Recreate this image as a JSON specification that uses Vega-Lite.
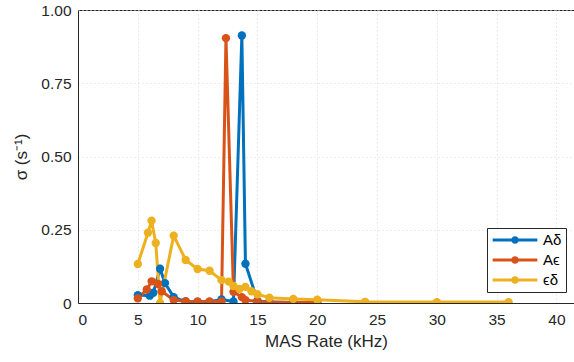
{
  "$schema": "https://vega.github.io/schema/vega-lite/v6.json",
  "autosize": "none",
  "width": 496,
  "height": 293,
  "padding": {"left": 78, "top": 10, "right": 0, "bottom": 59},
  "background": "white",
  "config": {
    "font": "Liberation Sans",
    "view": {"stroke": "#262626", "strokeWidth": 1},
    "axis": {
      "domainColor": "#262626",
      "tickColor": "#262626",
      "labelColor": "#262626",
      "titleColor": "#262626",
      "labelFontSize": 15.5,
      "titleFontSize": 17,
      "titleFontWeight": "normal",
      "gridColor": "#d9d9d9",
      "gridDash": [1, 3],
      "gridWidth": 1,
      "tickSize": 0
    }
  },
  "data": {
    "values": [
      {"s": "Aδ", "x": 5.0, "y": 0.027},
      {"s": "Aδ", "x": 6.0, "y": 0.025},
      {"s": "Aδ", "x": 6.3, "y": 0.035},
      {"s": "Aδ", "x": 6.86, "y": 0.117},
      {"s": "Aδ", "x": 7.27, "y": 0.068},
      {"s": "Aδ", "x": 8.0, "y": 0.02},
      {"s": "Aδ", "x": 9.0, "y": 0.005},
      {"s": "Aδ", "x": 10.0, "y": 0.004},
      {"s": "Aδ", "x": 11.0, "y": 0.004},
      {"s": "Aδ", "x": 12.0, "y": 0.012},
      {"s": "Aδ", "x": 13.0, "y": 0.005},
      {"s": "Aδ", "x": 13.7, "y": 0.913},
      {"s": "Aδ", "x": 14.0, "y": 0.134},
      {"s": "Aδ", "x": 15.0, "y": 0.008},
      {"s": "Aδ", "x": 16.0, "y": 0.003},
      {"s": "Aδ", "x": 18.0, "y": 0.002},
      {"s": "Aδ", "x": 20.0, "y": 0.002},
      {"s": "Aϵ", "x": 5.0, "y": 0.016},
      {"s": "Aϵ", "x": 5.75, "y": 0.046},
      {"s": "Aϵ", "x": 6.16, "y": 0.074},
      {"s": "Aϵ", "x": 6.7, "y": 0.065},
      {"s": "Aϵ", "x": 7.0, "y": 0.04},
      {"s": "Aϵ", "x": 8.0, "y": 0.01},
      {"s": "Aϵ", "x": 9.0, "y": 0.006},
      {"s": "Aϵ", "x": 10.0, "y": 0.005},
      {"s": "Aϵ", "x": 11.0, "y": 0.005},
      {"s": "Aϵ", "x": 12.0, "y": 0.005},
      {"s": "Aϵ", "x": 12.37, "y": 0.904},
      {"s": "Aϵ", "x": 13.0, "y": 0.038},
      {"s": "Aϵ", "x": 13.7, "y": 0.02},
      {"s": "Aϵ", "x": 14.0, "y": 0.01},
      {"s": "Aϵ", "x": 15.0, "y": 0.005},
      {"s": "Aϵ", "x": 16.0, "y": 0.003},
      {"s": "Aϵ", "x": 18.0, "y": 0.002},
      {"s": "Aϵ", "x": 20.0, "y": 0.002},
      {"s": "ϵδ", "x": 5.0, "y": 0.133},
      {"s": "ϵδ", "x": 5.85, "y": 0.24},
      {"s": "ϵδ", "x": 6.15, "y": 0.281},
      {"s": "ϵδ", "x": 6.5, "y": 0.205},
      {"s": "ϵδ", "x": 6.86, "y": 0.0},
      {"s": "ϵδ", "x": 8.0, "y": 0.23},
      {"s": "ϵδ", "x": 9.0, "y": 0.147},
      {"s": "ϵδ", "x": 10.0, "y": 0.116},
      {"s": "ϵδ", "x": 11.0, "y": 0.11},
      {"s": "ϵδ", "x": 12.0, "y": 0.078},
      {"s": "ϵδ", "x": 12.6, "y": 0.073},
      {"s": "ϵδ", "x": 13.0, "y": 0.058},
      {"s": "ϵδ", "x": 13.5, "y": 0.048},
      {"s": "ϵδ", "x": 14.0, "y": 0.055},
      {"s": "ϵδ", "x": 14.5, "y": 0.04},
      {"s": "ϵδ", "x": 15.0, "y": 0.03},
      {"s": "ϵδ", "x": 16.0, "y": 0.018},
      {"s": "ϵδ", "x": 18.0, "y": 0.014},
      {"s": "ϵδ", "x": 20.0, "y": 0.011},
      {"s": "ϵδ", "x": 24.0, "y": 0.004},
      {"s": "ϵδ", "x": 30.0, "y": 0.003},
      {"s": "ϵδ", "x": 36.0, "y": 0.003}
    ]
  },
  "mark": {"type": "line", "strokeWidth": 3, "clip": true, "point": {"filled": true, "size": 70, "opacity": 1}},
  "encoding": {
    "x": {
      "field": "x", "type": "quantitative",
      "scale": {"domain": [0, 41.47], "nice": false, "zero": false},
      "axis": {"values": [0, 5, 10, 15, 20, 25, 30, 35, 40], "title": "MAS Rate (kHz)", "labelPadding": 9, "titlePadding": 6, "grid": true}
    },
    "y": {
      "field": "y", "type": "quantitative",
      "scale": {"domain": [0, 1], "nice": false},
      "axis": {"values": [0, 0.25, 0.5, 0.75, 1], "labelExpr": "datum.value == 0 ? '0' : format(datum.value, '.2f')", "title": "σ (s⁻¹)", "labelPadding": 7, "titlePadding": 10, "grid": true}
    },
    "color": {
      "field": "s", "type": "nominal",
      "scale": {"domain": ["Aδ", "Aϵ", "ϵδ"], "range": ["#0072BD", "#D95319", "#EDB120"]},
      "legend": {
        "title": null,
        "orient": "none",
        "legendX": 409,
        "legendY": 218,
        "strokeColor": "#262626",
        "fillColor": "white",
        "padding": 4,
        "labelFontSize": 15,
        "labelColor": "#000000",
        "symbolType": "M-1,0L1,0M-0.1,0a0.1,0.1 0 1,0 0.2,0a0.1,0.1 0 1,0 -0.2,0",
        "symbolSize": 2000,
        "symbolStrokeWidth": 3,
        "clipHeight": 16,
        "rowPadding": 4,
        "labelOffset": 4
      }
    }
  }
}
